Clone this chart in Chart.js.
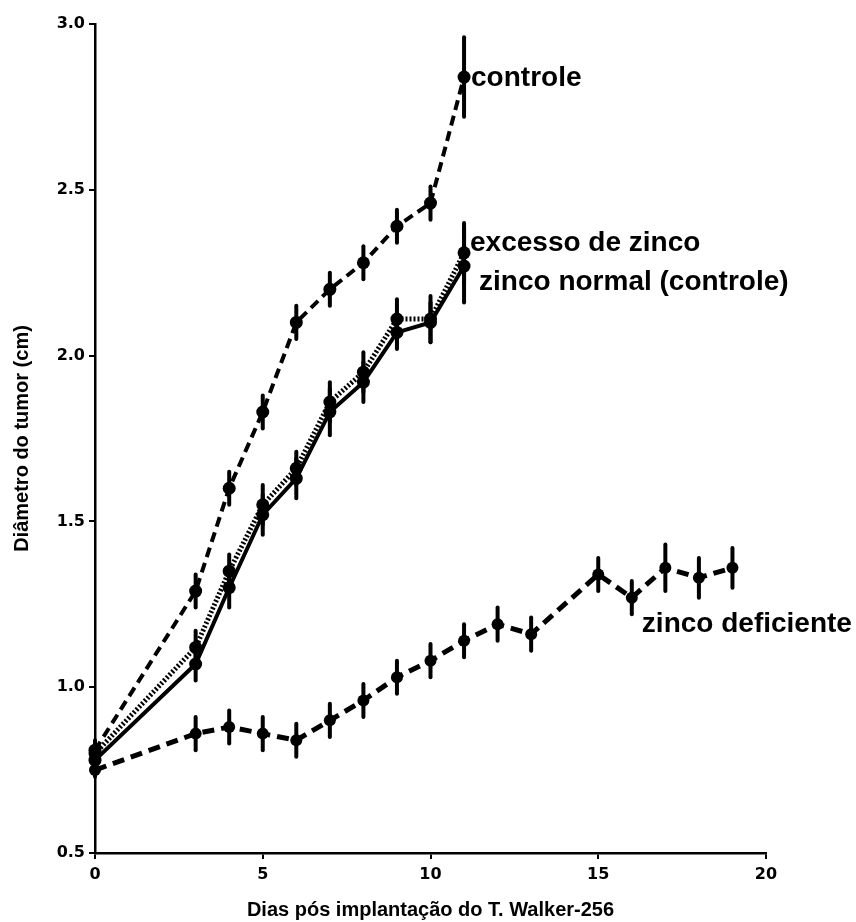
<!DOCTYPE html>
<html lang="pt">
<head>
<meta charset="utf-8">
<title>Diâmetro do tumor</title>
<script src="https://cdn.jsdelivr.net/npm/chart.js@4.4.1/dist/chart.umd.min.js"></script>
<style>
  html, body { margin:0; padding:0; background:#fff; }
  #wrap { width:856px; height:922px; }
</style>
</head>
<body>
<div id="wrap"><canvas id="chart" width="856" height="922"></canvas></div>
<script>
// Data (days after tumour implantation, diameter in cm)
const daysMain = [0, 3, 4, 5, 6, 7, 8, 9, 10, 11];
const controle = [0.81, 1.29, 1.60, 1.83, 2.10, 2.20, 2.28, 2.39, 2.46, 2.84];
const controleErr = [0.03, 0.05, 0.05, 0.05, 0.05, 0.05, 0.05, 0.05, 0.05, 0.12];
const excesso = [0.80, 1.12, 1.35, 1.55, 1.66, 1.86, 1.95, 2.11, 2.11, 2.31];
const excessoErr = [0.03, 0.05, 0.05, 0.06, 0.05, 0.06, 0.06, 0.06, 0.07, 0.09];
const normal = [0.78, 1.07, 1.30, 1.52, 1.63, 1.83, 1.92, 2.07, 2.10, 2.27];
const normalErr = [0.03, 0.05, 0.06, 0.06, 0.06, 0.07, 0.06, 0.05, 0.06, 0.11];

const daysDef = [0, 3, 4, 5, 6, 7, 8, 9, 10, 11, 12, 13, 15, 16, 17, 18, 19];
const deficiente = [0.75, 0.86, 0.88, 0.86, 0.84, 0.90, 0.96, 1.03, 1.08, 1.14, 1.19, 1.16, 1.34, 1.27, 1.36, 1.33, 1.36];
const deficienteErr = [0.02, 0.05, 0.05, 0.05, 0.05, 0.05, 0.05, 0.05, 0.05, 0.05, 0.05, 0.05, 0.05, 0.05, 0.07, 0.06, 0.06];

const xTicks = [0, 5, 10, 15, 20];
const yTicks = [0.5, 1.0, 1.5, 2.0, 2.5, 3.0];

const seriesLabels = ['controle', 'excesso de zinco', 'zinco normal (controle)', 'zinco deficiente'];

function pts(xs, ys){ return xs.map((x,i)=> ({ x, y: ys[i] })); }

const INK = '#000';

// error bars + white background
const errorBars = {
  id: 'errorBars',
  beforeDraw(chart){
    const c = chart.ctx;
    c.save(); c.fillStyle = '#fff'; c.fillRect(0, 0, chart.width, chart.height); c.restore();
  },
  afterDatasetsDraw(chart){
    const c = chart.ctx, xs = chart.scales.x, ys = chart.scales.y;
    c.save();
    c.strokeStyle = INK; c.lineWidth = 4; c.lineCap = 'round';
    chart.data.datasets.forEach(ds => {
      (ds.errors || []).forEach((e, i) => {
        const p = ds.data[i];
        const px = xs.getPixelForValue(p.x);
        c.beginPath();
        c.moveTo(px, ys.getPixelForValue(p.y + e));
        c.lineTo(px, ys.getPixelForValue(p.y - e));
        c.stroke();
      });
    });
    c.restore();
  }
};

// direct labels next to the last points
const seriesNames = {
  id: 'seriesNames',
  afterDraw(chart){
    const c = chart.ctx, xs = chart.scales.x, ys = chart.scales.y;
    c.save();
    c.fillStyle = INK;
    c.font = 'bold 28px "Liberation Sans", Arial, sans-serif';
    c.textBaseline = 'middle';
    c.textAlign = 'left';
    c.fillText(seriesLabels[0], xs.getPixelForValue(11) + 7, ys.getPixelForValue(2.84) + 1);
    c.fillText(seriesLabels[1], xs.getPixelForValue(11) + 6, ys.getPixelForValue(2.34));
    c.fillText(seriesLabels[2], xs.getPixelForValue(11) + 15, ys.getPixelForValue(2.22));
    c.fillText(seriesLabels[3], xs.getPixelForValue(16.3), ys.getPixelForValue(1.19));
    c.restore();
  }
};

const tickFont = { family: '"DejaVu Sans", sans-serif', weight: 'bold', size: 16 };
const titleFont = { family: '"Liberation Sans", Arial, sans-serif', weight: 'bold', size: 20 };

new Chart(document.getElementById('chart').getContext('2d'), {
  type: 'line',
  data: {
    datasets: [
      { label: seriesLabels[0], data: pts(daysMain, controle), errors: controleErr,
        borderColor: INK, backgroundColor: INK, borderWidth: 4, borderDash: [10, 6],
        pointRadius: 6.5, pointBorderWidth: 0, tension: 0 },
      { label: seriesLabels[1], data: pts(daysMain, excesso), errors: excessoErr,
        borderColor: INK, backgroundColor: INK, borderWidth: 5, borderDash: [2, 2],
        pointRadius: 6.5, pointBorderWidth: 0, tension: 0 },
      { label: seriesLabels[2], data: pts(daysMain, normal), errors: normalErr,
        borderColor: INK, backgroundColor: INK, borderWidth: 4,
        pointRadius: 6.5, pointBorderWidth: 0, tension: 0 },
      { label: seriesLabels[3], data: pts(daysDef, deficiente), errors: deficienteErr,
        borderColor: INK, backgroundColor: INK, borderWidth: 5, borderDash: [12, 7],
        pointRadius: 6, pointBorderWidth: 0, tension: 0 }
    ]
  },
  options: {
    responsive: false,
    animation: false,
    clip: false,
    layout: { padding: { left: 0, top: 24, right: 90, bottom: 0 } },
    plugins: { legend: { display: false }, tooltip: { enabled: false } },
    scales: {
      x: {
        type: 'linear', min: 0, max: 20,
        afterBuildTicks: s => { s.ticks = xTicks.map(v => ({ value: v })); },
        afterFit: s => { s.height = 69; },
        ticks: { color: INK, font: tickFont, padding: 6 },
        grid: { drawOnChartArea: false, drawTicks: true, tickLength: 6, color: INK, lineWidth: 2 },
        border: { display: true, color: INK, width: 2.5 },
        title: { display: true, text: 'Dias pós implantação do T. Walker-256', color: INK,
          font: titleFont, padding: { top: 0, bottom: 0 } }
      },
      y: {
        type: 'linear', min: 0.5, max: 3.0,
        afterBuildTicks: s => { s.ticks = yTicks.map(v => ({ value: v })); },
        afterFit: s => { s.width = 95; },
        ticks: { color: INK, font: tickFont, padding: 4, callback: v => v.toFixed(1) },
        grid: { drawOnChartArea: false, drawTicks: true, tickLength: 6, color: INK, lineWidth: 2 },
        border: { display: true, color: INK, width: 2.5 },
        title: { display: true, text: 'Diâmetro do tumor (cm)', color: INK,
          font: titleFont, padding: { top: 10, bottom: 0 } }
      }
    }
  },
  plugins: [errorBars, seriesNames]
});
</script>
</body>
</html>
